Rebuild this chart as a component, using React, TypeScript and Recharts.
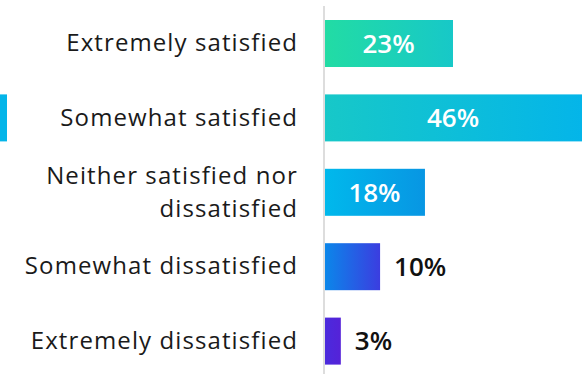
import { Bar, BarChart, LabelList, XAxis, YAxis } from "recharts"

const categories = [
  "Extremely satisfied",
  "Somewhat satisfied",
  "Neither satisfied nor\ndissatisfied",
  "Somewhat dissatisfied",
  "Extremely dissatisfied",
]
const shares = [23, 46, 18, 10, 3]
const gradientStops = [
  ["#22dca4", "#17c8c8"],
  ["#17c8c8", "#04b5e9"],
  ["#00b9ec", "#0896e3"],
  ["#0a88ea", "#3b3de0"],
  ["#4a2bdd", "#5522d8"],
]

const data = categories.map((name, i) => ({ name, value: shares[i] }))

const labelFont = "'Open Sans', Roboto, sans-serif"
const valueFont = "'Open Sans', Lato, sans-serif"

function CategoryTick(props: any) {
  const { x, y, payload } = props
  const lines = String(payload.value).split("\n")
  const lineHeight = 33
  const start = -((lines.length - 1) * lineHeight) / 2
  return (
    <text
      x={x}
      y={y}
      textAnchor="end"
      fill="#1a1a1a"
      fontSize={24}
      fontWeight={400}
      letterSpacing={1.1}
      fontFamily={labelFont}
    >
      {lines.map((line, i) => (
        <tspan key={i} x={x} dy={i === 0 ? start + 8 : lineHeight}>
          {line}
        </tspan>
      ))}
    </text>
  )
}

function GradientBar(props: any) {
  const { x, y, width, height, index } = props
  return (
    <g>
      <rect x={x} y={y} width={width} height={height} fill={`url(#bar-grad-${index})`} />
      {index === 1 && <rect x={0} y={y} width={7} height={height} fill="#04b5e9" />}
    </g>
  )
}

function ValueLabel(props: any) {
  const { x, y, width, height, value } = props
  const inside = value >= 15
  return (
    <text
      x={inside ? x + width / 2 : x + width + 14}
      y={y + height / 2}
      dy="0.36em"
      textAnchor={inside ? "middle" : "start"}
      fill={inside ? "#ffffff" : "#111111"}
      fontSize={26}
      fontWeight={600}
      fontFamily={valueFont}
    >
      {value}%
    </text>
  )
}

export default function App() {
  return (
    <div
      style={{
        position: "absolute",
        left: 0,
        top: 0,
        width: 587,
        height: 374,
        overflow: "hidden",
        background: "#fff",
      }}
    >
      <BarChart
        width={587}
        height={378}
        data={data}
        layout="vertical"
        margin={{ top: 6, right: 5, bottom: 0, left: 0 }}
      >
        <defs>
          {gradientStops.map(([from, to], i) => (
            <linearGradient key={i} id={`bar-grad-${i}`} x1="0" y1="0" x2="1" y2="0">
              <stop offset="0%" stopColor={from} />
              <stop offset="100%" stopColor={to} />
            </linearGradient>
          ))}
        </defs>
        <XAxis type="number" domain={[0, 46]} hide />
        <YAxis
          type="category"
          dataKey="name"
          width={324}
          axisLine={{ stroke: "#dddddd", strokeWidth: 2 }}
          tickLine={false}
          tickSize={0}
          tickMargin={26}
          tick={<CategoryTick />}
          interval={0}
        />
        <Bar dataKey="value" barSize={47} shape={<GradientBar />} isAnimationActive={false}>
          <LabelList dataKey="value" content={<ValueLabel />} />
        </Bar>
      </BarChart>
    </div>
  )
}
